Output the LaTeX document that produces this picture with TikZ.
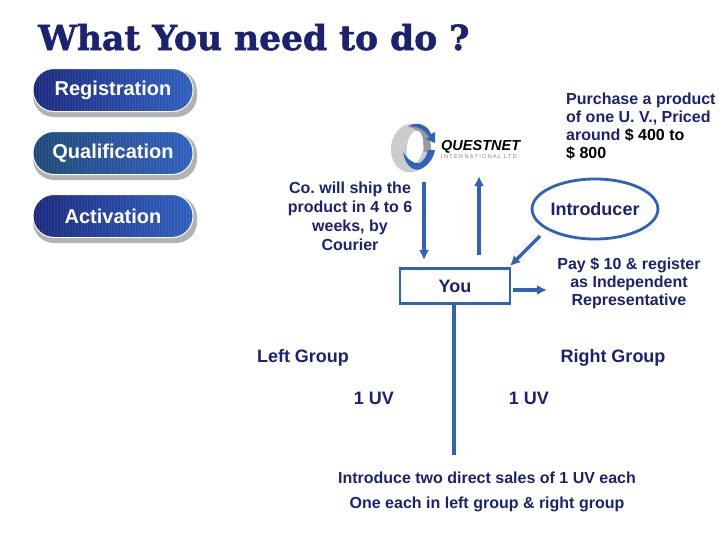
\documentclass[tikz,border=0pt]{standalone}
\usepackage{fontspec}
\setmainfont{Liberation Sans}
\newfontfamily\titlefont[FakeBold=1.6]{DejaVu Serif}
\usetikzlibrary{arrows.meta,shapes.geometric,shadings}
\definecolor{txtblue}{HTML}{1B2270}
\definecolor{lineblue}{HTML}{2F62B8}
\definecolor{btnl}{HTML}{1C2A80}
\definecolor{btnr}{HTML}{3060C0}
\definecolor{btnq}{HTML}{1F4A78}
\newcommand{\lblsmall}{\bfseries\fontsize{16}{18}\selectfont\frenchspacing}
\newcommand{\lblbig}{\bfseries\fontsize{18}{20}\selectfont\frenchspacing}
\tikzset{
  x=1pt,y=-1pt,
  lbl/.style={font=\lblsmall,text=txtblue,align=center,inner sep=0pt},
  lblL/.style={lbl,align=left},
  lblbg/.style={lbl,font=\lblbig},
  btn/.style={rounded corners=21pt,minimum width=160pt,minimum height=43pt,inner sep=0pt,
     font=\bfseries\fontsize{20}{22}\selectfont,text=white,draw=white,line width=1pt,
     left color=btnl,right color=btnr,
     path picture={\foreach \i in {0,3,...,160}{\draw[white,opacity=.07,line width=.8pt]
        ([xshift=\i pt]path picture bounding box.north west) -- ([xshift=\i pt]path picture bounding box.south west);}}},
  shad/.style={fill=black!30,rounded corners=21pt,draw=none},
  conn/.style={draw=lineblue,line width=3.2pt,-{Latex[length=10pt,width=10pt]}},
  plain/.style={draw=lineblue,line width=3.2pt}
}
\begin{document}
\begin{tikzpicture}
\useasboundingbox (0,0) rectangle (728,546);
% title
\node[anchor=base west,inner sep=0pt,text=txtblue,font=\titlefont\bfseries\fontsize{34.5}{38}\selectfont] (title) at (38,50) {What You need to do ?};
% buttons
\foreach \yy in {92,155,218}{\fill[shad] (33,\yy-22) rectangle (197,\yy+25);}
\node[btn] (reg) at (113,90) {\raisebox{-1.5pt}{Registration}};
\node[btn,left color=btnq] (qual) at (113,153) {\raisebox{-1.5pt}{Qualification}};
\node[btn] (act) at (113,216) {\raisebox{-1.5pt}{Activation}};
% logo
\begin{scope}
 \fill[gray!40,rotate around={-8:(411,148)}] (411,148) ellipse [x radius=20,y radius=24.5];
 \fill[gray!80] (410,127) .. controls (422,122) and (432,134) .. (431,152) -- (424,152) .. controls (424,140) and (420,130) .. (410,127) -- cycle;
 \fill[white,rotate around={-8:(415,147)}] (415,147) ellipse [x radius=8,y radius=16.5];
 \fill[lineblue] (403,152) .. controls (405,165) and (413,172) .. (421,169) .. controls (429,165) and (434,157) .. (435,150) -- (428,150) .. controls (427,157) and (420,166) .. (415,163) .. controls (410,161) and (406,157) .. (403,152) -- cycle;
 \fill[lineblue] (408,127) .. controls (416,120) and (428,125) .. (431,134) -- (435,132) -- (435,143) -- (426,139) -- (429,137) .. controls (424,129) and (416,125) .. (408,127) -- cycle;
\end{scope}
\node[anchor=west,inner sep=0pt,font=\bfseries\itshape\fontsize{14.5}{17}\selectfont,text=black] (qn) at (441,147) {QUESTNET};
\node[anchor=west,inner sep=0pt,font=\fontsize{5.5}{6}\selectfont\addfontfeature{LetterSpace=25},text=gray] (intl) at (441,157) {INTERNATIONAL LTD.};
% texts
\node[lblL,anchor=north west] (buy) at (566,93) {Purchase a product\\of one U. V., Priced\\around \textcolor{black}{\$ 400 to}\\\textcolor{black}{\$ 800}};
\node[lbl,anchor=north] (ship) at (350,182) {Co. will ship the\\[1pt]product in 4 to 6\\[1pt]weeks, by\\[1pt]Courier};
\node[ellipse,draw=lineblue,line width=2.8pt,minimum width=122pt,minimum height=60pt,inner sep=0pt,lblbg] (intro) at (595,209) {Introducer};
\node[draw=lineblue,line width=2.8pt,minimum width=110pt,minimum height=35pt,inner sep=0pt,font=\lblbig,text=txtblue] (you) at (455,286) {\raisebox{-1pt}{You}};
\node[lbl,anchor=north] (pay) at (629,257) {Pay \$ 10 \& register\\as Independent\\Representative};
\node[lblbg] (lg) at (303,358) {Left Group};
\node[lblbg] (rg) at (613,358) {Right Group};
\node[lblbg] (uvl) at (374,398) {1 UV};
\node[lblbg] (uvr) at (529,398) {1 UV};
\node[lbl] (t1) at (487,478) {Introduce two direct sales of 1 UV each};
\node[lbl] (t2) at (487,504) {One each in left group \& right group};
% connector ends
\coordinate (shiptop) at (424,182);
\coordinate (shipend) at (424,260);
\coordinate (upstart) at (479,255);
\coordinate (uptop) at (479,176);
\coordinate (paystart) at (513,290);
\coordinate (payend) at (547,290);
\coordinate (lineend) at (454,455);
\coordinate (introstart) at (540,236);
\coordinate (introend) at (510,266);
% connectors
\draw[conn] (shiptop) -- (shipend);
\draw[conn] (upstart) -- (uptop);
\draw[conn] (introstart) -- (introend);
\draw[conn] (paystart) -- (payend);
\draw[plain] (you.south -| lineend) -- (lineend);
\end{tikzpicture}
\end{document}
